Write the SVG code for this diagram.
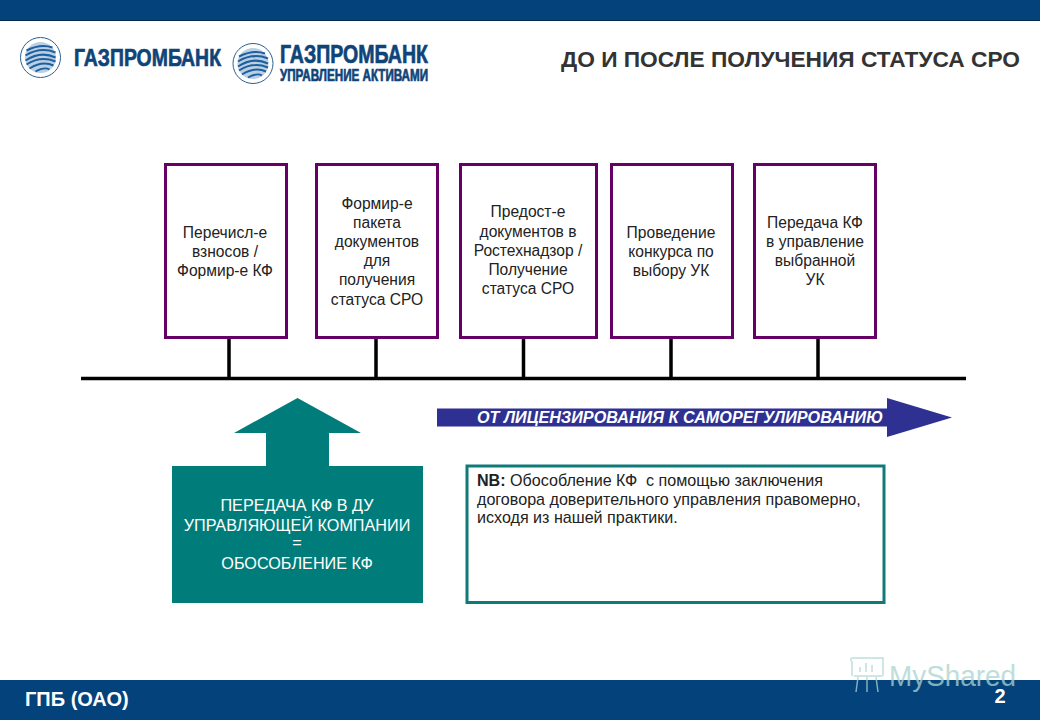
<svg xmlns="http://www.w3.org/2000/svg" width="1040" height="720" viewBox="0 0 1040 720">
<style>
text{font-family:"Liberation Sans",Arial,sans-serif}
.n{font-size:15.6px;fill:#222;text-anchor:middle}
.box{fill:#fff;stroke:#660066;stroke-width:3}
.link{stroke:#000;stroke-width:3.5;fill:none}
.t{font-size:16.2px;fill:#fff;text-anchor:middle}
.nb{font-size:16.1px;fill:#222}
.logo{font-family:"Liberation Sans",sans-serif;font-weight:bold;fill:#0f4478;stroke:#0f4478;stroke-width:.7}
.sw{fill:none;stroke:#1f5f9e;stroke-width:2}
.wm{fill:none;stroke:#a9d4cf;stroke-width:1.5;opacity:.75}
</style>
<defs>
<g id="globe">
<circle r="20" fill="#fff" stroke="#2e5f8c" stroke-width="1"/>
<circle r="15.500" fill="#b9d0e4"/>
<path class="sw" d="M-14-7Q0-14 12-10M-15-2Q0-11 15-5M-15 3Q0-7 15 0M-14 7Q0-2 15 4M-11 11Q2 3 13 8M-5 14Q4 9 9 12"/>
</g>
</defs>
<rect width="1040" height="720" fill="#fff"/>
<rect width="1040" height="21" fill="#04427c"/>
<rect y="20" width="1040" height="1" fill="#02274a"/>
<rect y="680" width="1040" height="40" fill="#04427c"/>

<g id="logo1">
<use href="#globe" transform="translate(40.500 57.500)"/>
<text class="logo" x="74" y="66" font-size="24" textLength="147" lengthAdjust="spacingAndGlyphs">ГАЗПРОМБАНК</text>
</g>
<g id="logo2">
<use href="#globe" transform="translate(253 63.500)"/>
<text class="logo" x="280" y="63" font-size="26" textLength="148" lengthAdjust="spacingAndGlyphs">ГАЗПРОМБАНК</text>
<text class="logo" x="280" y="81" font-size="16" textLength="148" lengthAdjust="spacingAndGlyphs">УПРАВЛЕНИЕ АКТИВАМИ</text>
</g>
<text id="title" x="561" y="67" font-size="22.500" font-weight="bold" fill="#333" textLength="459" lengthAdjust="spacingAndGlyphs">ДО И ПОСЛЕ ПОЛУЧЕНИЯ СТАТУСА СРО</text>

<g id="connectors">
<path class="link" d="M81 378.500H966M229 338V378M376 338V378M523.500 338V378M671 338V378M818 338V378"/>
</g>

<g id="node1">
<rect class="box" x="165.500" y="164.500" width="121" height="173"/>
<text class="n" x="225" y="238">Перечисл-е</text>
<text class="n" x="225" y="257">взносов /</text>
<text class="n" x="225" y="276">Формир-е КФ</text>
</g>
<g id="node2">
<rect class="box" x="316.500" y="164.500" width="121" height="173"/>
<text class="n" x="377" y="209">Формир-е</text>
<text class="n" x="377" y="228">пакета</text>
<text class="n" x="377" y="247">документов</text>
<text class="n" x="377" y="266">для</text>
<text class="n" x="377" y="285">получения</text>
<text class="n" x="377" y="305">статуса СРО</text>
</g>
<g id="node3">
<rect class="box" x="460.500" y="164.500" width="136" height="173"/>
<text class="n" x="528" y="217">Предост-е</text>
<text class="n" x="528" y="237">документов в</text>
<text class="n" x="528" y="256">Ростехнадзор /</text>
<text class="n" x="528" y="275">Получение</text>
<text class="n" x="528" y="294">статуса СРО</text>
</g>
<g id="node4">
<rect class="box" x="611.500" y="164.500" width="121" height="173"/>
<text class="n" x="671" y="238">Проведение</text>
<text class="n" x="671" y="257">конкурса по</text>
<text class="n" x="671" y="276">выбору УК</text>
</g>
<g id="node5">
<rect class="box" x="754.500" y="164.500" width="121" height="173"/>
<text class="n" x="815" y="228">Передача КФ</text>
<text class="n" x="815" y="247">в управление</text>
<text class="n" x="815" y="266">выбранной</text>
<text class="n" x="815" y="285">УК</text>
</g>

<g id="arrow-right">
<path d="M437 408.500H887V398L952 417.500L887 437V426.500H437Z" fill="#2e3192"/>
<text x="477" y="423" font-size="16" font-weight="bold" font-style="italic" fill="#fff" textLength="406" lengthAdjust="spacingAndGlyphs">ОТ ЛИЦЕНЗИРОВАНИЯ К САМОРЕГУЛИРОВАНИЮ</text>
</g>

<g id="teal-node">
<path d="M172 466H266V433H234L297.500 398L361 433H329V466H423V603H172Z" fill="#007d7a"/>
<text class="t" x="297" y="511">ПЕРЕДАЧА КФ В ДУ</text>
<text class="t" x="297" y="531">УПРАВЛЯЮЩЕЙ КОМПАНИИ</text>
<text class="t" x="297" y="548">=</text>
<text class="t" x="297" y="569">ОБОСОБЛЕНИЕ КФ</text>
</g>

<g id="nb-node">
<rect x="467" y="466" width="417" height="136.500" fill="#fff" stroke="#0f7a78" stroke-width="3"/>
<text class="nb" x="477" y="486" xml:space="preserve"><tspan font-weight="bold">NB:</tspan> Обособление КФ  с помощью заключения</text>
<text class="nb" x="477" y="505">договора доверительного управления правомерно,</text>
<text class="nb" x="477" y="523">исходя из нашей практики.</text>
</g>

<text id="org" x="25" y="706" font-size="20" font-weight="bold" fill="#fff">ГПБ (ОАО)</text>
<text id="page" x="1000" y="703" font-size="20" font-weight="bold" fill="#fff" text-anchor="middle">2</text>

<g id="watermark">
<path class="wm" d="M852 676V662Q849 658 853 658H883V676M854 676H882M860 672V667M866 672V663M872 672V665M858 677L856 692M867 677V692M876 677L878 692"/>
<text x="889" y="686" font-size="29" fill="#a9d4cf" opacity=".75" textLength="127" lengthAdjust="spacingAndGlyphs">MyShared</text>
</g>
</svg>
